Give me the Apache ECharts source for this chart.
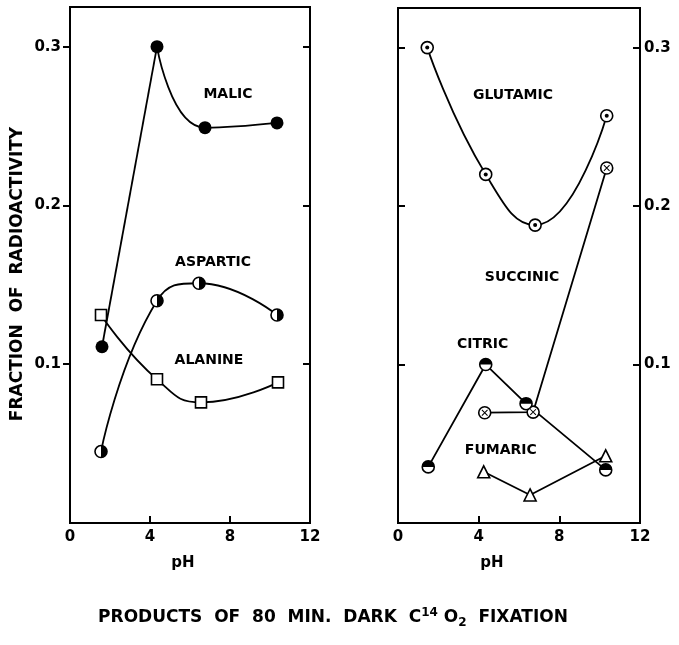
<!DOCTYPE html>
<html>
<head>
<meta charset="utf-8">
<script src="https://cdn.jsdelivr.net/npm/echarts@6/dist/echarts.min.js"></script>
<style>
  html, body { margin: 0; padding: 0; background: #fff; }
  #chart { width: 679px; height: 645px; }
</style>
</head>
<body>
<div id="chart"></div>
<script>
// pH vs fraction of radioactivity
var malic = [[1.6, 0.111], [4.35, 0.300], [6.75, 0.249], [10.35, 0.252]]
var aspartic = [[1.55, 0.045], [4.35, 0.140], [6.45, 0.151], [10.35, 0.131]]
var alanine = [[1.55, 0.131], [4.35, 0.0905], [6.55, 0.076], [10.4, 0.0886]]
var glutamic = [[1.45, 0.300], [4.35, 0.220], [6.8, 0.188], [10.35, 0.257]]
var succinic = [[4.3, 0.0696], [6.7, 0.070], [10.35, 0.224]]
var citric = [[1.5, 0.0354], [4.35, 0.100], [6.35, 0.0753], [10.3, 0.0335]]
var fumaric = [[4.25, 0.0323], [6.55, 0.0177], [10.3, 0.0424]]

// curve names written inside the panels [text, pH, fraction]
var leftLabels = [['MALIC', 7.9, 0.270], ['ASPARTIC', 7.15, 0.164], ['ALANINE', 6.95, 0.1025]]
var rightLabels = [['GLUTAMIC', 5.7, 0.270], ['SUCCINIC', 6.15, 0.155], ['CITRIC', 4.2, 0.1126], ['FUMARIC', 5.1, 0.0456]]

var xLabels = [0, 4, 8, 12]
var xTickMarks = [4, 8]
var yTicks = [0.1, 0.2, 0.3]

var FONT = 'DejaVu Sans'
var chart = echarts.init(document.getElementById('chart'), null, { renderer: 'canvas' })

// which y axis each panel draws its data on
var yIdx = [0, 3]

function line(data, panel, smooth) {
  return {
    type: 'line', xAxisIndex: panel, yAxisIndex: yIdx[panel], data: data,
    smooth: smooth, symbol: 'none', silent: true, z: 2,
    lineStyle: { color: '#000', width: 1.8 }
  }
}

function marks(data, panel, symbol, size, style, extra) {
  var s = {
    type: 'scatter', xAxisIndex: panel, yAxisIndex: yIdx[panel], data: data,
    symbol: symbol, symbolSize: size, silent: true, z: 3,
    itemStyle: Object.assign({ opacity: 1 }, style)
  }
  for (var k in extra) s[k] = extra[k]
  return s
}

function labels(list, panel) {
  return {
    type: 'scatter', xAxisIndex: panel, yAxisIndex: yIdx[panel], silent: true, z: 4,
    symbolSize: 1, itemStyle: { color: 'rgba(0,0,0,0)', opacity: 1 },
    data: list.map(function (l) { return { name: l[0], value: [l[1], l[2]] } }),
    label: {
      show: true, position: 'inside', formatter: '{b}',
      color: '#000', fontFamily: FONT, fontWeight: 'bold', fontSize: 14
    }
  }
}

var open = { color: '#fff', borderColor: '#000', borderWidth: 1.6 }
var solid = { color: '#000' }

function xAxis(grid) {
  return {
    type: 'value', gridIndex: grid, min: 0, max: 12, interval: 4,
    axisLine: { show: true, lineStyle: { color: '#000', width: 2 } },
    axisTick: { show: true, inside: true, length: 7, customValues: xTickMarks, lineStyle: { color: '#000', width: 2 } },
    axisLabel: {
      margin: 7, color: '#000', fontFamily: FONT, fontWeight: 'bold', fontSize: 15,
      customValues: xLabels
    },
    splitLine: { show: false }
  }
}

function yAxis(grid, pos, showLabel, inside, extra) {
  var a = {
    type: 'value', gridIndex: grid, position: pos, min: 0, max: 0.325, interval: 0.1,
    axisLine: { show: true, lineStyle: { color: '#000', width: 2 } },
    axisTick: { show: true, inside: inside, length: 7, customValues: yTicks, lineStyle: { color: '#000', width: 2 } },
    axisLabel: {
      show: showLabel, margin: pos === 'left' ? 9 : 4, color: '#000',
      fontFamily: FONT, fontWeight: 'bold', fontSize: 15,
      customValues: yTicks,
      formatter: function (v) { return v.toFixed(1) }
    },
    splitLine: { show: false }
  }
  for (var k in extra) a[k] = extra[k]
  return a
}

var option = {
  backgroundColor: '#fff',
  animation: false,
  grid: [
    { left: 70, top: 7, width: 240, height: 516, show: true, borderColor: '#000', borderWidth: 2, backgroundColor: '#fff' },
    { left: 398, top: 8, width: 242, height: 515, show: true, borderColor: '#000', borderWidth: 2, backgroundColor: '#fff' }
  ],
  xAxis: [xAxis(0), xAxis(1)],
  yAxis: [
    yAxis(0, 'left', true, false, {
      name: 'FRACTION  OF  RADIOACTIVITY', nameLocation: 'middle', nameGap: 44, nameRotate: 90,
      nameTextStyle: { color: '#000', fontFamily: FONT, fontWeight: 'bold', fontSize: 17, padding: [0, 18, 0, 0] }
    }),
    yAxis(0, 'right', false, true),
    yAxis(1, 'left', false, true),
    yAxis(1, 'right', true, true)
  ],
  graphic: [
    { type: 'text', x: 183, y: 563, style: { text: 'pH', fill: '#000', font: 'bold 15px "DejaVu Sans"', textAlign: 'center', textVerticalAlign: 'middle' } },
    { type: 'text', x: 492, y: 563, style: { text: 'pH', fill: '#000', font: 'bold 15px "DejaVu Sans"', textAlign: 'center', textVerticalAlign: 'middle' } },
    {
      type: 'text', x: 333, y: 618,
      style: {
        text: 'PRODUCTS  OF  80  MIN.  DARK  C{sup|14}{n| O}{sub|2}  FIXATION',
        fill: '#000', font: 'bold 17px "DejaVu Sans"', textAlign: 'center', textVerticalAlign: 'middle',
        rich: {
          n: { fontFamily: FONT, fontWeight: 'bold', fontSize: 17, fill: '#000' },
          sup: { fontFamily: FONT, fontWeight: 'bold', fontSize: 12, fill: '#000', padding: [0, 0, 10, 0] },
          sub: { fontFamily: FONT, fontWeight: 'bold', fontSize: 12, fill: '#000', padding: [10, 0, 0, 0] }
        }
      }
    }
  ],
  series: [
    // left panel
    line(malic.slice(0, 2), 0, false),
    line(malic.slice(1), 0, 0.5),
    line(aspartic, 0, true),
    line(alanine, 0, true),
    marks(malic, 0, 'circle', 13, solid),
    marks(aspartic, 0, 'circle', 12, open),
    marks(aspartic, 0, 'path://M0,-1A1,1 0 0 1 0,1Z', [6, 12], solid, { symbolOffset: [3, 0], z: 4 }),
    marks(alanine, 0, 'rect', 11, open),
    labels(leftLabels, 0),
    // right panel
    line(glutamic, 1, true),
    line(succinic, 1, false),
    line(citric, 1, false),
    line(fumaric, 1, false),
    marks(glutamic, 1, 'circle', 12, open),
    marks(glutamic, 1, 'circle', 4, solid, { z: 4 }),
    marks(succinic, 1, 'circle', 12, open),
    marks(succinic, 1, 'path://M-1,-0.13H1V0.13H-1Z M-0.13,-1H0.13V1H-0.13Z', 8, solid, { symbolRotate: 45, z: 4 }),
    marks(citric, 1, 'circle', 12, open),
    marks(citric, 1, 'path://M-1,0A1,1 0 0 1 1,0Z', [12, 6], solid, { symbolOffset: [0, -3], z: 4 }),
    marks(fumaric, 1, 'triangle', 12, open),
    labels(rightLabels, 1)
  ]
}

chart.setOption(option)
</script>
</body>
</html>
